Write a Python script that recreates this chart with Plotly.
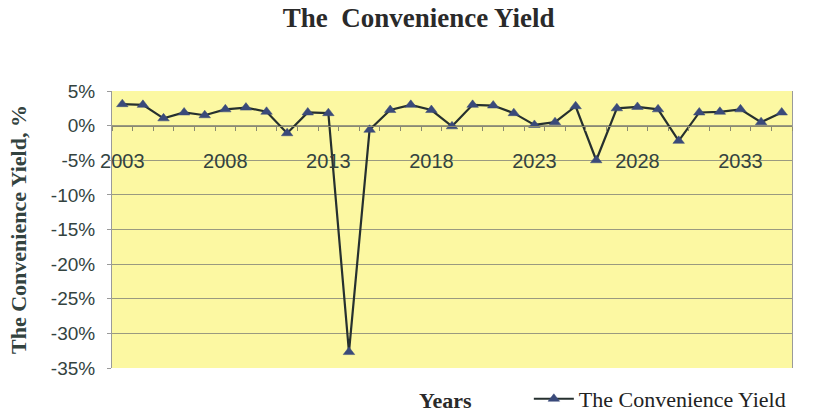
import plotly.graph_objects as go

# Annual convenience yield, in percent
years = list(range(2003, 2036))
yield_pct = [3.1, 3.0, 1.05, 1.9, 1.5, 2.35, 2.6, 2.0, -1.1, 1.9, 1.8,
             -32.7, -0.6, 2.25, 3.0, 2.25, -0.1, 3.0, 2.9, 1.8, 0.1, 0.5,
             2.8, -5.0, 2.5, 2.7, 2.35, -2.2, 1.9, 2.0, 2.35, 0.5, 1.9]
x_tick_years = [2003, 2008, 2013, 2018, 2023, 2028, 2033]
y_ticks = [5, 0, -5, -10, -15, -20, -25, -30, -35]
y_tick_labels = ["5%", "0%", "-5%", "-10%", "-15%", "-20%", "-25%", "-30%", "-35%"]

serif = "Liberation Serif, Times New Roman, serif"
sans = "Liberation Sans, Arial, sans-serif"
label_color = "#33433f"

fig = go.Figure()
fig.add_trace(go.Scatter(
    x=years, y=yield_pct, mode="lines+markers",
    name="The Convenience Yield",
    line=dict(color="#26302f", width=2.2),
    marker=dict(symbol="triangle-up", size=10, color="#3a4a7a",
                line=dict(color="#3a4a7a", width=0.5)),
))

fig.update_layout(
    width=813, height=414,
    margin=dict(l=112, r=21, t=91, b=46, autoexpand=False),
    paper_bgcolor="white",
    plot_bgcolor="#fcf8a2",
    title=dict(text="<b>The&nbsp; Convenience Yield</b>", x=0.515, xanchor="center",
               y=0.958, yanchor="middle",
               font=dict(family=serif, size=27, color="#2a2a2a")),
    showlegend=True,
    legend=dict(x=0.613, y=-0.036, xanchor="left", yanchor="top",
                orientation="h", bgcolor="rgba(0,0,0,0)",
                font=dict(family=serif, size=22, color="#222"),
                itemwidth=40),
    xaxis=dict(
        range=[2002.5, 2035.5], tickmode="array", tickvals=x_tick_years,
        anchor="free", position=0.875,
        showgrid=False, zeroline=False,
        showline=True, linecolor="#8a8a70", linewidth=1,
        ticks="",
        minor=dict(ticks="outside", tick0=2002.5, dtick=1, ticklen=4,
                   tickcolor="#8a8a70", showgrid=False),
        ticklabelstandoff=17,
        tickfont=dict(family=sans, size=20, color=label_color),
        mirror=False,
    ),
    yaxis=dict(
        range=[-35, 5], tickmode="array", tickvals=y_ticks, ticktext=y_tick_labels,
        showgrid=True, gridcolor="#9a9a80", gridwidth=1,
        zeroline=False,
        showline=True, linecolor="#9a9a9a", linewidth=1, mirror=True,
        ticks="outside", ticklen=4, tickcolor="#9a9a9a",
        ticklabelstandoff=8,
        tickfont=dict(family=sans, size=19, color=label_color),
        title=dict(text="<b>The Convenience Yield, %</b>", standoff=18,
                   font=dict(family=serif, size=22, color=label_color)),
    ),
)

fig.add_annotation(text="<b>Years</b>", xref="paper", yref="paper",
                   x=0.491, y=-0.118, xanchor="center", yanchor="middle",
                   showarrow=False,
                   font=dict(family=serif, size=22, color="#2a2a2a"))

fig.write_html("out.html")
